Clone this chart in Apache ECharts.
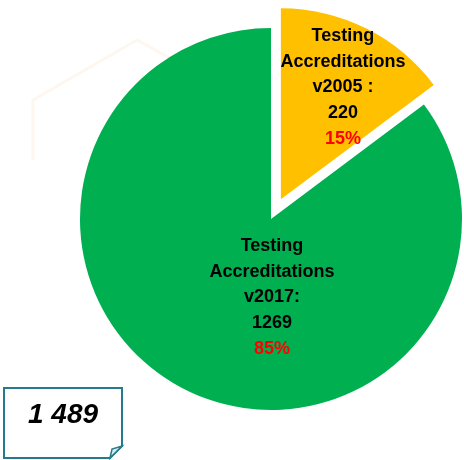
<!DOCTYPE html>
<html>
<head>
<meta charset="utf-8">
<script src="https://cdn.jsdelivr.net/npm/echarts@6/dist/echarts.min.js"></script>
<style>
  html, body { margin: 0; padding: 0; background: #fff; }
  #chart { width: 464px; height: 460px; }
</style>
</head>
<body>
<div id="chart"></div>
<script>
// données
const versions = ['v2005 :', 'v2017:'];
const counts = [220, 1269];
const percents = ['15%', '85%'];
const colors = ['#FFC000', '#00AF50'];
const totalLabel = '1 489';

const FONT = '"Liberation Sans", Arial, sans-serif';
const chart = echarts.init(document.getElementById('chart'));

// la tranche sélectionnée garde sa position d'étiquette par défaut :
// on la décale avec un padding asymétrique
const pieData = counts.map((v, i) => ({
  name: 'Testing Accreditations ' + versions[i],
  value: v,
  selected: i === 0,
  itemStyle: { color: colors[i] },
  label: i === 0 ? { padding: [0, 0, 46, 36] } : {}
}));

const option = {
  animation: false,
  textStyle: { fontFamily: FONT },
  graphic: [
    // filigrane discret en fond
    {
      type: 'polyline',
      z: -10,
      shape: { points: [[33, 160], [33, 100], [137, 40], [170, 58]] },
      style: { stroke: '#fdf7f0', lineWidth: 3, fill: null }
    },
    // encadré du total
    {
      type: 'polygon',
      shape: { points: [[4, 388], [122, 388], [122, 446], [110, 458], [4, 458]] },
      style: { fill: '#fff', stroke: '#237B8C', lineWidth: 2 }
    },
    {
      type: 'polygon',
      shape: { points: [[110, 458], [112, 449], [122, 446]] },
      style: { fill: '#dbe9ec', stroke: '#237B8C', lineWidth: 1.5 }
    },
    {
      type: 'text',
      x: 63,
      y: 415,
      style: {
        text: totalLabel,
        font: 'italic bold 28px ' + FONT,
        fill: '#000',
        align: 'center',
        verticalAlign: 'middle'
      }
    }
  ],
  series: [
    {
      type: 'pie',
      center: [271, 219],
      radius: [0, 191],
      startAngle: 90,
      clockwise: true,
      selectedMode: 'single',
      selectedOffset: 22,
      silent: true,
      label: {
        show: true,
        position: 'inside',
        align: 'center',
        verticalAlign: 'middle',
        fontFamily: FONT,
        fontSize: 18,
        fontWeight: 'bold',
        color: '#000',
        lineHeight: 25.5,
        formatter: p => 'Testing\nAccreditations\n' + versions[p.dataIndex] + '\n' +
          counts[p.dataIndex] + '\n{p|' + percents[p.dataIndex] + '}',
        rich: {
          p: { fontSize: 18, fontWeight: 'bold', color: '#FF0000', lineHeight: 27, fontFamily: FONT }
        }
      },
      labelLine: { show: false },
      labelLayout: p => (p.dataIndex === 1 ? { x: 272, y: 298 } : {}),
      data: pieData
    }
  ]
};

chart.setOption(option);
</script>
</body>
</html>
